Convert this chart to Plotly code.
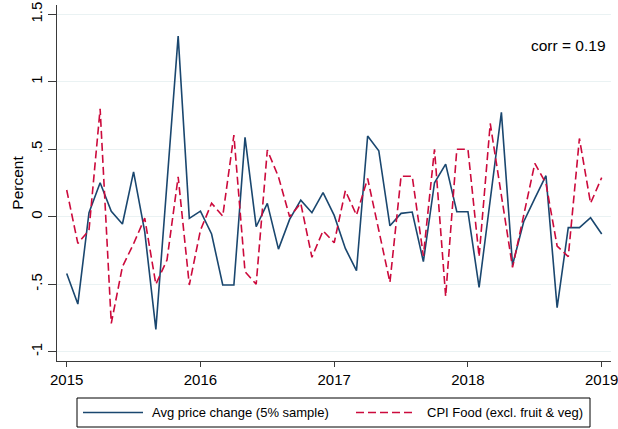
import plotly.graph_objects as go

# Monthly observations, Jan 2015 .. Jan 2019
months = [f"{2015 + m // 12}-{m % 12 + 1:02d}" for m in range(49)]

avg_price_change = [
    -0.42, -0.647, 0.03, 0.252, 0.04, -0.054, 0.333, -0.11, -0.835, 0.27, 1.338, -0.012,
    0.042, -0.128, -0.506, -0.506, 0.588, -0.074, 0.099, -0.24, -0.02, 0.123, 0.03, 0.178,
    0.01, -0.235, -0.4, 0.598, 0.489, -0.067, 0.025, 0.035, -0.333, 0.252, 0.39, 0.037,
    0.037, -0.523, 0.123, 0.773, -0.358, -0.037, 0.136, 0.304, -0.674, -0.081, -0.081, -0.007,
    -0.128,
]

cpi_food = [
    0.198, -0.198, -0.1, 0.8, -0.79, -0.37, -0.2, -0.01, -0.5, -0.32, 0.296, -0.506,
    -0.1, 0.1, 0.005, 0.605, -0.407, -0.5, 0.494, 0.296, 0.0, 0.1, -0.3, -0.104,
    -0.193, 0.193, 0.012, 0.284, -0.1, -0.486, 0.3, 0.3, -0.29, 0.5, -0.59, 0.5,
    0.5, -0.296, 0.691, 0.16, -0.375, 0.01, 0.395, 0.247, -0.217, -0.296, 0.58, 0.1,
    0.29,
]

series_names = ["Avg price change (5% sample)", "CPI Food (excl. fruit & veg)"]
x_tick_vals = [2015, 2016, 2017, 2018, 2019]
x_tick_text = ["2015", "2016", "2017", "2018", "2019"]
y_tick_vals = [-1, -0.5, 0, 0.5, 1, 1.5]
y_tick_text = ["-1", "-.5", "0", ".5", "1", "1.5"]
corr_label = "corr = 0.19"

# convert "YYYY-MM" to fractional year (Stata-like monthly spacing)
x = [int(s[:4]) + (int(s[5:]) - 1) / 12 for s in months]

FONT = "Liberation Sans, Arial, sans-serif"
BLUE = "#1a476f"
RED = "#cc0a3c"
DASH = "8px,4px"
AXIS = "#3a3a3a"

W, H = 618, 429
L, R, T, B = 57, 7, 5, 68
PW, PH = W - L - R, H - T - B


def px_x(p):
    return (p - L) / PW


def px_y(p):
    return (H - B - p) / PH


fig = go.Figure()
fig.add_trace(go.Scatter(
    x=x, y=avg_price_change, mode="lines", name=series_names[0],
    line=dict(color=BLUE, width=1.6), showlegend=False,
))
fig.add_trace(go.Scatter(
    x=x, y=cpi_food, mode="lines", name=series_names[1],
    line=dict(color=RED, width=1.6, dash=DASH), showlegend=False,
))

# Stata-style legend box below the plot
leg_y = px_y(412.5)
shapes = [
    dict(type="rect", xref="paper", yref="paper",
         x0=px_x(77), x1=px_x(590), y0=px_y(427), y1=px_y(398),
         line=dict(color="#000", width=1), fillcolor="white", layer="above"),
    dict(type="line", xref="paper", yref="paper",
         x0=px_x(83), x1=px_x(143), y0=leg_y, y1=leg_y,
         line=dict(color=BLUE, width=1.6)),
    dict(type="line", xref="paper", yref="paper",
         x0=px_x(356), x1=px_x(413), y0=leg_y, y1=leg_y,
         line=dict(color=RED, width=1.6, dash=DASH)),
]
annotations = [
    dict(text=corr_label, xref="paper", yref="paper", x=px_x(607.5), y=px_y(45),
         xanchor="right", yanchor="middle", showarrow=False,
         font=dict(size=15.5, family=FONT, color="#000")),
    dict(text=series_names[0], xref="paper", yref="paper", x=px_x(150), y=leg_y,
         xanchor="left", yanchor="middle", showarrow=False,
         font=dict(size=13, family=FONT, color="#000")),
    dict(text=series_names[1], xref="paper", yref="paper", x=px_x(425), y=leg_y,
         xanchor="left", yanchor="middle", showarrow=False,
         font=dict(size=13, family=FONT, color="#000")),
]

fig.update_layout(
    width=W, height=H,
    margin=dict(l=L, r=R, t=T, b=B, autoexpand=False),
    paper_bgcolor="white", plot_bgcolor="white",
    font=dict(family=FONT, size=15, color="#000"),
    showlegend=False,
    shapes=shapes,
    annotations=annotations,
)

fig.update_xaxes(
    range=[2014.9275, 2019.0695], tickvals=x_tick_vals, ticktext=x_tick_text,
    showgrid=False, zeroline=False, showline=True, linecolor=AXIS, linewidth=1.2,
    ticks="outside", ticklen=5, tickcolor=AXIS, tickwidth=1.2,
    ticklabeloverflow="allow",
    tickfont=dict(size=15, family=FONT, color="#000"),
)
fig.update_yaxes(
    range=[-1.069, 1.569], tickvals=y_tick_vals, ticktext=y_tick_text,
    tickangle=-90, showgrid=True, gridcolor="#eaf2f3", gridwidth=1,
    zeroline=False, showline=True, linecolor=AXIS, linewidth=1.2,
    ticks="outside", ticklen=8, tickcolor=AXIS, tickwidth=1.2,
    ticklabeloverflow="allow",
    tickfont=dict(size=15, family=FONT, color="#000"),
    title=dict(text="Percent", font=dict(size=15.5, family=FONT, color="#000"), standoff=0),
)

fig.write_html(
    "out.html",
    config={"displayModeBar": False},
    post_script="document.body.style.margin='0';",
)
